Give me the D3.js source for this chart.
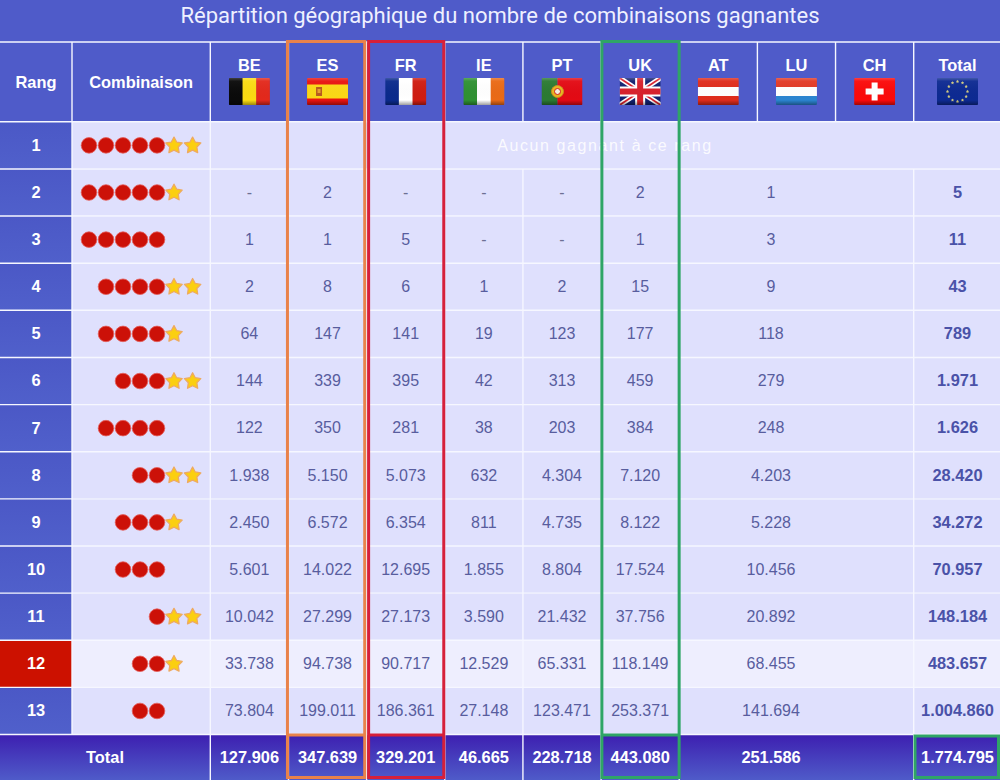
<!DOCTYPE html>
<html><head><meta charset="utf-8">
<script src="https://cdn.jsdelivr.net/npm/d3@7/dist/d3.min.js"></script>
<style>html,body{margin:0;padding:0;background:#4f5bc9}svg{display:block}</style>
</head><body><svg id="c" width="1000" height="780"></svg>
<script>
const titleText = "Répartition géographique du nombre de combinaisons gagnantes";
const noWinnerText = "Aucun gagnant à ce rang";
const ranks = [1,2,3,4,5,6,7,8,9,10,11,12,13];
const balls = [5,5,5,4,4,3,4,2,3,3,1,2,2];
const stars = [2,1,0,2,1,2,0,2,1,0,2,1,0];
const countries = ["BE","ES","FR","IE","PT","UK","AT","LU","CH"];
const be = [null,null,1,2,64,144,122,1938,2450,5601,10042,33738,73804];
const es = [null,2,1,8,147,339,350,5150,6572,14022,27299,94738,199011];
const fr = [null,null,5,6,141,395,281,5073,6354,12695,27173,90717,186361];
const ie = [null,null,null,1,19,42,38,632,811,1855,3590,12529,27148];
const pt = [null,null,null,2,123,313,203,4304,4735,8804,21432,65331,123471];
const uk = [null,2,1,15,177,459,384,7120,8122,17524,37756,118149,253371];
const atLuCh = [null,1,3,9,118,279,248,4203,5228,10456,20892,68455,141694];
const totalCol = [null,5,11,43,789,1971,1626,28420,34272,70957,148184,483657,1004860];
const totalsRow = {BE:127906,ES:347639,FR:329201,IE:46665,PT:228718,UK:443080,AT:251586,Total:1774795};

const svg = d3.select("#c");
const W=1000,H=780;
const fmt = d3.formatLocale({decimal:",",thousands:".",grouping:[3],currency:["","€"]}).format(",d");
const y = d3.scaleBand().domain(ranks).range([121.8,734.5]).paddingInner(0).paddingOuter(0);
const x = d3.scaleBand().domain(countries).range([210.3,913.7]);
const rankR=72, comboR=210.3, headTop=42, footTop=734.5;
const mergedCx=771, totalCx=957.5;
const sansB='"Liberation Sans",Arial,sans-serif';
const defs=svg.append("defs");
function grad(id,stops){const g=defs.append("linearGradient").attr("id",id).attr("x1",0).attr("x2",0).attr("y1",0).attr("y2",1);
 stops.forEach(s=>g.append("stop").attr("offset",s[0]).attr("stop-color",s[1]).attr("stop-opacity",s[2]===undefined?1:s[2]));}
grad("foot",[[0,"#3d1fb0"],[1,"#4f5bc9"]]);
grad("rank",[[0,"#4b58c6"],[1,"#5060cb"]]);
grad("gloss",[[0,"#fff",.22],[.12,"#fff",.04],[.82,"#000",0],[1,"#000",.38]]);
const starPath=(r)=>{const p=[];for(let i=0;i<10;i++){const a=-Math.PI/2+i*Math.PI/5,R=i%2?r*.52:r;p.push([R*Math.cos(a),R*Math.sin(a)]);}return d3.line().curve(d3.curveLinearClosed)(p);};

svg.append("rect").attr("width",W).attr("height",H).attr("fill","#4f5bc9");
svg.append("text").attr("x",500).attr("y",22.5).attr("text-anchor","middle").attr("fill","#eef0ff")
 .style("font",'22px Roboto,sans-serif').text(titleText);

const rowG=svg.append("g").selectAll("g").data(ranks).join("g");
rowG.append("rect").attr("x",rankR).attr("y",d=>y(d)).attr("width",W-rankR).attr("height",y.bandwidth())
 .attr("fill",d=>d===12?"#eeeefe":"#dfe0fd");
rowG.append("rect").attr("x",0).attr("y",d=>y(d)).attr("width",rankR).attr("height",y.bandwidth())
 .attr("fill",d=>d===12?"#cc1100":"url(#rank)");
svg.append("rect").attr("x",0).attr("y",footTop).attr("width",W).attr("height",H-footTop).attr("fill","url(#foot)");

const grid=svg.append("g").attr("stroke","#f6f7ff").attr("stroke-width",1.4);
grid.append("line").attr("x1",0).attr("x2",W).attr("y1",headTop).attr("y2",headTop);
ranks.forEach(r=>grid.append("line").attr("x1",0).attr("x2",W).attr("y1",y(r)).attr("y2",y(r)));
grid.append("line").attr("x1",0).attr("x2",W).attr("y1",footTop).attr("y2",footTop);
grid.append("line").attr("x1",rankR).attr("x2",rankR).attr("y1",headTop).attr("y2",footTop);
grid.append("line").attr("x1",comboR).attr("x2",comboR).attr("y1",headTop).attr("y2",H);
countries.slice(1).forEach((c,i)=>{
  grid.append("line").attr("x1",x(c)).attr("x2",x(c)).attr("y1",headTop).attr("y2",y(1));
  if(i<6) grid.append("line").attr("x1",x(c)).attr("x2",x(c)).attr("y1",y(2)).attr("y2",H);
});
grid.append("line").attr("x1",x.range()[1]).attr("x2",x.range()[1]).attr("y1",headTop).attr("y2",y(1));
grid.append("line").attr("x1",x.range()[1]).attr("x2",x.range()[1]).attr("y1",y(2)).attr("y2",H);

const headStyle=`bold 16.4px ${sansB}`;
const hdr=svg.append("g").attr("fill","#fff").style("font",headStyle).attr("text-anchor","middle");
hdr.append("text").attr("x",rankR/2).attr("y",87.5).text("Rang");
hdr.append("text").attr("x",(rankR+comboR)/2).attr("y",87.5).text("Combinaison");
countries.forEach(c=>hdr.append("text").attr("x",x(c)+x.bandwidth()/2).attr("y",71).text(c));
hdr.append("text").attr("x",totalCx).attr("y",71).text("Total");

function flag(cx,name){
 const fw=41,fh=27,g=svg.append("g").attr("transform",`translate(${cx-fw/2},78)`);
 const id="cl"+name;
 defs.append("clipPath").attr("id",id).append("rect").attr("width",fw).attr("height",fh).attr("rx",1);
 const f=g.append("g").attr("clip-path",`url(#${id})`);
 const R=(a,b,w,h,col)=>f.append("rect").attr("x",a).attr("y",b).attr("width",w).attr("height",h).attr("fill",col);
 const v3=(a,b,c)=>{R(0,0,fw/3+.5,fh,a);R(fw/3,0,fw/3+.5,fh,b);R(2*fw/3,0,fw/3+.5,fh,c);};
 const h3=(a,b,c)=>{R(0,0,fw,fh/3+.5,a);R(0,fh/3,fw,fh/3+.5,b);R(0,2*fh/3,fw,fh/3,c);};
 const L=(x1,y1,x2,y2,col,sw)=>f.append("line").attr("x1",x1).attr("y1",y1).attr("x2",x2).attr("y2",y2).attr("stroke",col).attr("stroke-width",sw);
 if(name==="BE")v3("#0a0a0a","#fbdc12","#e3291c");
 if(name==="ES"){R(0,0,fw,fh,"#e8130f");R(0,6.5,fw,14,"#fbd916");R(9,9,6,9,"#b85a20");R(10.5,11,3,4,"#e8a030");}
 if(name==="FR")v3("#0a2a8c","#ffffff","#cf1d12");
 if(name==="IE")v3("#2f9132","#ffffff","#ea6a16");
 if(name==="PT"){R(0,0,16,fh,"#2b7a32");R(16,0,fw-16,fh,"#e30a14");
   f.append("circle").attr("cx",16).attr("cy",13.5).attr("r",6).attr("fill","#e8b820").attr("stroke","#d08a20");
   f.append("circle").attr("cx",16).attr("cy",13.5).attr("r",3).attr("fill","#f6f0e0").attr("stroke","#d81818");}
 if(name==="UK"){R(0,0,fw,fh,"#10206f");
   L(0,0,fw,fh,"#fff",5);L(fw,0,0,fh,"#fff",5);L(0,0,fw,fh,"#d8202c",1.8);L(fw,0,0,fh,"#d8202c",1.8);
   R(fw/2-5,0,10,fh,"#fff");R(0,fh/2-5,fw,10,"#fff");R(fw/2-3,0,6,fh,"#d8202c");R(0,fh/2-3,fw,6,"#d8202c");}
 if(name==="AT")h3("#df2c1c","#ffffff","#df2c1c");
 if(name==="LU")h3("#e23a26","#ffffff","#2b84d0");
 if(name==="CH"){R(0,0,fw,fh,"#fb0a0a");R(fw/2-3,fh/2-9,6,18,"#fff");R(fw/2-9,fh/2-3,18,6,"#fff");}
 if(name==="EU"){R(0,0,fw,fh,"#0d2a92");
   d3.range(12).forEach(i=>{const a=i*Math.PI/6;f.append("path").attr("transform",`translate(${fw/2+10*Math.cos(a)},${fh/2+10*Math.sin(a)})`).attr("d",starPath(1.7)).attr("fill","#cfc880");});}
 f.append("rect").attr("width",fw).attr("height",fh).attr("fill","url(#gloss)");
}
countries.forEach(c=>flag(x(c)+x.bandwidth()/2,c));
flag(totalCx,"EU");

const rg=svg.append("g");
const ballStep=17, lastBall=157, firstStar=174, starStep=18.6;
ranks.forEach((r,i)=>{
 const cy=y(r)+y.bandwidth()/2;
 d3.range(balls[i]).forEach(k=>rg.append("circle").attr("cx",lastBall-k*ballStep).attr("cy",cy).attr("r",7.8).attr("fill","#cc1108").attr("stroke","#e4605c").attr("stroke-width",.8));
 d3.range(stars[i]).forEach(k=>rg.append("path").attr("transform",`translate(${firstStar+k*starStep},${cy+.3})`).attr("d",starPath(8.6)).attr("fill","#fbcf10").attr("stroke","#eeaa60").attr("stroke-width",1.3).attr("stroke-linejoin","round"));
});

svg.append("g").selectAll("text").data(ranks).join("text").attr("x",rankR/2).attr("y",d=>y(d)+y.bandwidth()/2+5.4)
 .attr("text-anchor","middle").attr("fill","#fff").style("font",headStyle).text(d=>d);

const seriesByCol={BE:be,ES:es,FR:fr,IE:ie,PT:pt,UK:uk};
const vals=svg.append("g").attr("text-anchor","middle").style("font",`16px ${sansB}`);
const cellText=(cx,r,v)=>vals.append("text").attr("x",cx).attr("y",y(r)+y.bandwidth()/2+5.3).attr("fill",v===null?"#6d7094":"#585d9e").text(v===null?"-":fmt(v));
ranks.slice(1).forEach(r=>{
 const i=ranks.indexOf(r);
 Object.keys(seriesByCol).forEach(c=>cellText(x(c)+x.bandwidth()/2,r,seriesByCol[c][i]));
 cellText(mergedCx,r,atLuCh[i]);
});
svg.append("g").attr("fill","#4a52a8").attr("text-anchor","middle").style("font",`bold 16.4px ${sansB}`)
 .selectAll("text").data(ranks.slice(1)).join("text").attr("x",totalCx).attr("y",r=>y(r)+y.bandwidth()/2+5.3).text(r=>fmt(totalCol[ranks.indexOf(r)]));

svg.append("text").attr("x",605).attr("y",y(1)+y.bandwidth()/2+5.5).attr("text-anchor","middle").attr("fill","#fff").attr("fill-opacity",.85)
 .style("font",`16px ${sansB}`).style("letter-spacing","1.6px").text(noWinnerText);

const ft=svg.append("g").attr("fill","#fff").attr("text-anchor","middle").style("font",headStyle);
const footY=763;
ft.append("text").attr("x",105).attr("y",footY).text("Total");
["BE","ES","FR","IE","PT","UK"].forEach(c=>ft.append("text").attr("x",x(c)+x.bandwidth()/2).attr("y",footY).text(fmt(totalsRow[c])));
ft.append("text").attr("x",mergedCx).attr("y",footY).text(fmt(totalsRow.AT));
ft.append("text").attr("x",totalCx).attr("y",footY).text(fmt(totalsRow.Total));

const frames=[["ES","#e9824a"],["FR","#d6203a"],["UK","#2fa566"]];
const hi=svg.append("g").attr("fill","none").attr("stroke-width",3);
frames.forEach(([c,col])=>{
 const l=x(c)+(c==="ES"?-1:c==="FR"?2:.8), w=x.bandwidth()-(c==="FR"?3:.9);
 hi.append("rect").attr("x",l).attr("y",41.5).attr("width",w).attr("height",736).attr("stroke",col);
 hi.append("line").attr("x1",l).attr("x2",l+w).attr("y1",735).attr("y2",735).attr("stroke",col);
});
hi.append("rect").attr("x",915).attr("y",736).attr("width",83.5).attr("height",41.5).attr("stroke","#2fa566");
</script></body></html>
